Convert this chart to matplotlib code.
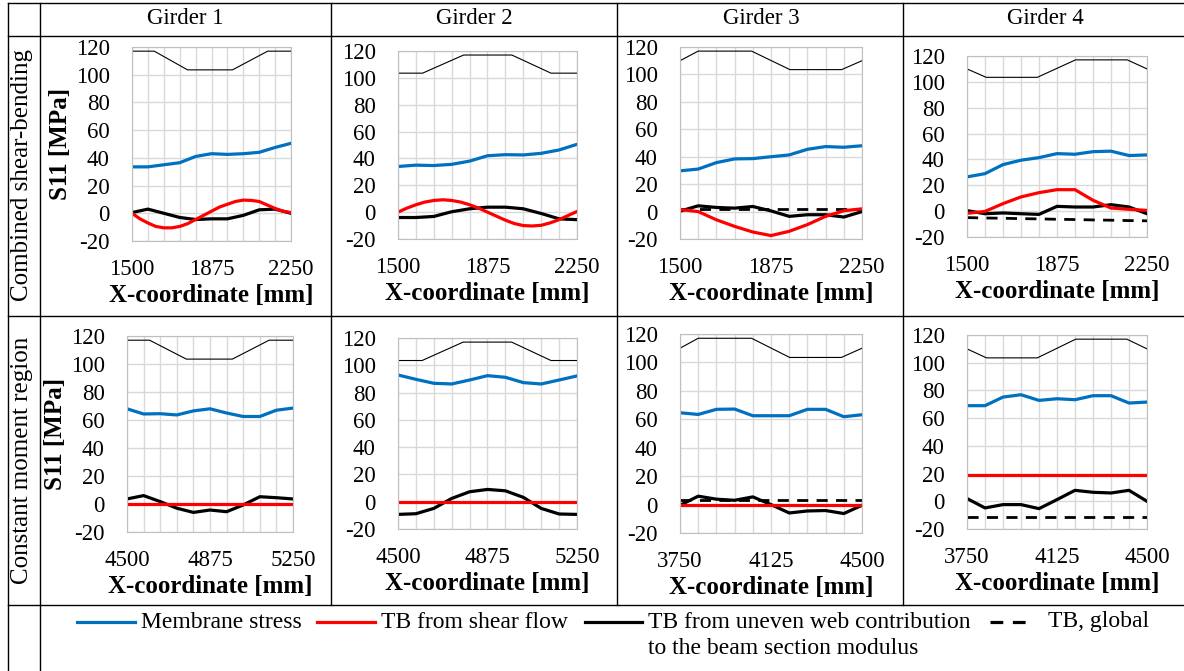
import numpy as np
import matplotlib.pyplot as plt
from matplotlib.lines import Line2D

plt.rcParams["font.family"] = ["Liberation Serif", "DejaVu Serif"]
plt.rcParams["axes.unicode_minus"] = False

W, H = 1184, 671

# ---- x positions (every 75 mm, finer where the curves bend) ----
x_shear = [1500, 1575, 1650, 1725, 1800, 1875, 1950, 2025, 2100, 2175, 2250]
x_shear_fine = [1500, 1537.5, 1575, 1612.5, 1650, 1687.5, 1725, 1762.5, 1800, 1837.5, 1875,
                1912.5, 1950, 1987.5, 2025, 2062.5, 2100, 2137.5, 2175, 2212.5, 2250]
x_moment_g12 = [4500, 4575, 4650, 4725, 4800, 4875, 4950, 5025, 5100, 5175, 5250]
x_moment_g34 = [3750, 3825, 3900, 3975, 4050, 4125, 4200, 4275, 4350, 4425, 4500]

# ---- combined shear-bending row ----
mem_s1 = [33.5, 33.5, 35, 36.5, 41, 43, 42.5, 43, 44, 47.5, 50.5]
shear_s1 = [0, -4, -7, -9.5, -10.5, -10.5, -9.5, -7.5, -4.5, -1.5, 1.5,
            4.5, 6.5, 8.5, 9.5, 9.3, 8.5, 6, 3.5, 1.5, 0.5]
web_s1 = [0.5, 3, 0, -3, -4.5, -4, -4, -1.5, 2.5, 3, 0]

mem_s2 = [34, 35, 34.7, 35.6, 38, 42, 42.8, 42.6, 43.8, 46.3, 50.5]
shear_s2 = [0, 3, 5.5, 7.5, 8.7, 9.2, 8.7, 7.5, 5.5, 3, 0,
            -3, -6, -8.5, -10, -10.3, -9.8, -8, -5.6, -2.5, 0.5]
web_s2 = [-4, -4, -3.2, 0.3, 2.5, 3.7, 3.7, 2.5, -1, -5, -5.6]

mem_s3 = [29.7, 31, 35.7, 38.4, 38.6, 40, 41.3, 45.4, 47.4, 46.9, 48]
shear_s3 = [1.5, 0, -6, -10.8, -14.9, -17.5, -14.4, -9.5, -3.5, 0.6, 2]
web_s3 = [0.3, 4.2, 3, 2.5, 3.7, 0.5, -3.5, -2.3, -2.3, -4, 0]
glob_s3 = [2, 2, 2, 2, 2, 2, 2, 2, 2, 2, 2]

mem_s4 = [26.5, 29, 36, 39.4, 41.4, 44.5, 44, 46, 46.4, 43, 43.5]
shear_s4 = [-1.7, -0.2, 5.8, 11, 14.3, 16.6, 16.6, 8.4, 2.4, 1.4, 0.6]
web_s4 = [0.4, -2, -1.4, -2, -2.5, 3.7, 3.2, 3.2, 5, 3.2, -2]
glob_s4 = [-5, -5.3, -5.5, -5.8, -6, -6.3, -6.5, -6.8, -7, -7.3, -7.5]

# ---- constant moment row ----
mem_m1 = [68, 64.3, 64.5, 63.6, 66.5, 68, 65, 62.5, 62.5, 67, 68.5]
shear_m1 = [0, 0, 0, 0, 0, 0, 0, 0, 0, 0, 0]
web_m1 = [3.6, 6, 1.7, -3, -6, -4.3, -5.5, -0.7, 5.2, 4.5, 3.6]

mem_m2 = [92.9, 89.7, 86.8, 86.3, 89.2, 92.4, 91.2, 87.3, 86.3, 89.2, 92.2]
shear_m2 = [0, 0, 0, 0, 0, 0, 0, 0, 0, 0, 0]
web_m2 = [-9.3, -8.8, -4.9, 2.4, 7.3, 9, 8, 3.2, -4.9, -9, -9.3]

mem_m3 = [64.6, 63.4, 67, 67.2, 62.5, 62.5, 62.5, 67, 67, 61.8, 63.2]
shear_m3 = [0, 0, 0, 0, 0, 0, 0, 0, 0, 0, 0]
web_m3 = [-0.5, 5.9, 3.8, 3, 5.4, 0, -5.9, -4.5, -4.2, -6.3, -0.5]
glob_m3 = [3, 3, 3, 3, 3, 3, 3, 3, 3, 3, 3]

mem_m4 = [69, 69, 75.2, 76.9, 72.8, 74, 73.3, 76.2, 76.2, 70.9, 71.6]
shear_m4 = [19, 19, 19, 19, 19, 19, 19, 19, 19, 19, 19]
web_m4 = [2, -4.8, -2.4, -2.4, -5.3, 1.2, 7.9, 6.5, 6, 7.9, 0]
glob_m4 = [-11.5] * 11

# ---- thin reference profile at the top of each panel ----
prof_x_s1 = [1500, 1605, 1762, 1974, 2140, 2250]
prof_y_s1 = [117, 117, 103.5, 103.5, 117, 117]
prof_x_s2 = [1500, 1603, 1775, 1977, 2141, 2250]
prof_y_s2 = [103.5, 103.5, 117, 117, 103.5, 103.5]
prof_x_s3 = [1500, 1575, 1795, 1953, 2166, 2250]
prof_y_s3 = [110, 117, 117, 103.5, 103.5, 110]
prof_x_s4 = [1500, 1580, 1793, 1952, 2168, 2250]
prof_y_s4 = [110, 103.5, 103.5, 117, 117, 110]
prof_x_m1 = [4500, 4602, 4768, 4976, 5142, 5250]
prof_y_m1 = prof_y_s1
prof_x_m2 = [4500, 4601, 4773, 4976, 5141, 5250]
prof_y_m2 = prof_y_s2
prof_x_m3 = [3750, 3825, 4045, 4202, 4415, 4500]
prof_y_m3 = prof_y_s3
prof_x_m4 = [3750, 3831, 4043, 4203, 4416, 4500]
prof_y_m4 = prof_y_s4

girders = ["Girder 1", "Girder 2", "Girder 3", "Girder 4"]
row_labels = ["Combined shear-bending", "Constant moment region"]

panels = [
    # (col, x, x of shear curve, membrane, shear, web, global, prof_x, prof_y, pixel box l, r, t, b)
    (0, x_shear, x_shear_fine, mem_s1, shear_s1, web_s1, None, prof_x_s1, prof_y_s1, (132, 291, 47, 241)),
    (1, x_shear, x_shear_fine, mem_s2, shear_s2, web_s2, None, prof_x_s2, prof_y_s2, (398, 577, 51, 239)),
    (2, x_shear, x_shear, mem_s3, shear_s3, web_s3, glob_s3, prof_x_s3, prof_y_s3, (680, 862, 47, 239)),
    (3, x_shear, x_shear, mem_s4, shear_s4, web_s4, glob_s4, prof_x_s4, prof_y_s4, (967, 1147, 56, 237)),
    (0, x_moment_g12, x_moment_g12, mem_m1, shear_m1, web_m1, None, prof_x_m1, prof_y_m1, (127, 293, 336, 532)),
    (1, x_moment_g12, x_moment_g12, mem_m2, shear_m2, web_m2, None, prof_x_m2, prof_y_m2, (398, 577, 338, 529)),
    (2, x_moment_g34, x_moment_g34, mem_m3, shear_m3, web_m3, glob_m3, prof_x_m3, prof_y_m3, (680, 862, 334, 533)),
    (3, x_moment_g34, x_moment_g34, mem_m4, shear_m4, web_m4, glob_m4, prof_x_m4, prof_y_m4, (967, 1147, 335, 529)),
]

BLUE = "#0070C0"
RED = "#FF0000"
GRID = "#d9d9d9"
LW = 2.3

fig = plt.figure(figsize=(W / 100, H / 100), dpi=100)

for col, x, xs, mem, shear, web, glob, px, py, (l, r, t, b) in panels:
    ax = fig.add_axes([l / W, 1 - b / H, (r - l) / W, (b - t) / H])
    ax.plot(px, py, color="black", lw=0.8)
    if glob is not None:
        ax.plot(x, glob, color="black", lw=2.0, linestyle=(0, (4, 3)))
    ax.plot(x, web, color="black", lw=LW, solid_joinstyle="round")
    ax.plot(xs, shear, color=RED, lw=LW, solid_joinstyle="round")
    ax.plot(x, mem, color=BLUE, lw=LW, solid_joinstyle="round")

    ax.set_xlim(x[0], x[-1])
    ax.set_ylim(-20, 120)
    ax.set_xticks([x[0], x[5], x[-1]])
    ax.set_xticks(x, minor=True)
    ax.set_yticks(np.arange(-20, 121, 20))
    ax.grid(True, which="both", color=GRID, lw=1.0)
    ax.set_axisbelow(True)
    for s in ax.spines.values():
        s.set_color("#bfbfbf")
    ax.tick_params(which="both", length=0, labelsize=16.5)
    ax.tick_params(axis="y", pad=16)
    ax.tick_params(axis="x", pad=13)
    ax.set_xlabel("X-coordinate [mm]", fontsize=18, fontweight="bold", labelpad=3)
    if col == 0:
        ax.set_ylabel("S11 [MPa]", fontsize=18, fontweight="bold", labelpad=3)

# ---- table borders ----
def hline(y, x0, x1):
    fig.add_artist(Line2D([x0 / W, x1 / W], [1 - y / H, 1 - y / H], color="black", lw=1.0))

def vline(x, y0, y1):
    fig.add_artist(Line2D([x / W, x / W], [1 - y0 / H, 1 - y1 / H], color="black", lw=1.0))

hline(3, 8, W)
hline(36, 8, W)
hline(316, 8, W)
hline(605, 8, W)
vline(8, 3, H)
vline(40, 3, H)
for xb in [331, 617, 903]:
    vline(xb, 3, 605)

# ---- headers ----
for gx, name in zip([185, 474, 761, 1045], girders):
    fig.text(gx / W, 1 - 19 / H, name, ha="center", va="center", fontsize=16.5)
for ry, name in zip([175, 460], row_labels):
    fig.text(22 / W, 1 - ry / H, name, ha="center", va="center", rotation=90, fontsize=18)

# ---- legend ----
leg_y = 622
items = [
    (77, 135, BLUE, "-", "Membrane stress", 6),
    (317, 375, RED, "-", "TB from shear flow", 6),
    (585, 642, "black", "-", "TB from uneven web contribution", 6),
    (990, 1032, "black", (0, (4, 3)), "TB, global", 16),
]
for x0, x1, c, ls, label, gap in items:
    fig.add_artist(Line2D([x0 / W, x1 / W], [1 - leg_y / H] * 2, color=c, lw=LW, linestyle=ls))
    fig.text((x1 + gap) / W, 1 - leg_y / H, label, ha="left", va="center", fontsize=17)
fig.text(648 / W, 1 - 648 / H, "to the beam section modulus", ha="left", va="center", fontsize=17)

fig.savefig("out.png", dpi=100)
